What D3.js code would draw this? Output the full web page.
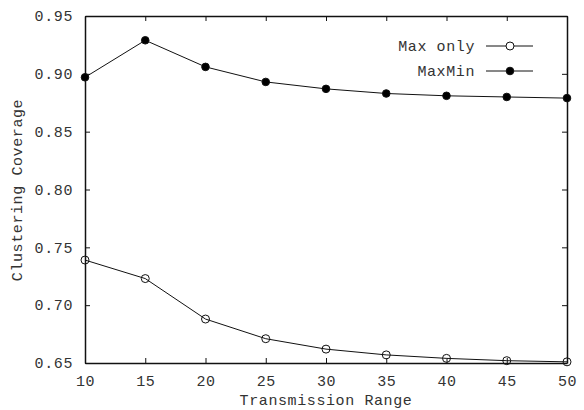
<!DOCTYPE html>
<html>
<head>
	<title></title>
	<script src="https://d3js.org/d3.v7.min.js"></script>
	<style>
		body { margin: 0; background: #fff; }
		text { font-family: "Liberation Mono", "DejaVu Sans Mono", monospace; fill: #333; letter-spacing: 0.6px; }
	</style>
</head>
<body>

<script>

var width = 584
var height = 410

// data
var ranges = [10, 15, 20, 25, 30, 35, 40, 45, 50]
var maxOnly = [0.739, 0.723, 0.688, 0.671, 0.662, 0.657, 0.654, 0.652, 0.651]
var maxMin = [0.897, 0.929, 0.906, 0.893, 0.887, 0.883, 0.881, 0.880, 0.879]
var yTicks = [0.65, 0.70, 0.75, 0.80, 0.85, 0.90, 0.95]
var xTicks = [10, 15, 20, 25, 30, 35, 40, 45, 50]
var seriesNames = ['Max only', 'MaxMin']

var margin = {left: 85, right: 17, top: 16, bottom: 47}

var svg = d3.select('body').append('svg')
	.attr('width', width)
	.attr('height', height)

var x = d3.scaleLinear().domain([10, 50]).range([margin.left, width - margin.right])
var y = d3.scaleLinear().domain([0.65, 0.95]).range([height - margin.bottom, margin.top])

// axes: ticks inward, mirrored on top and right
var fmt = d3.format('.2f')
svg.append('g')
	.attr('transform', 'translate(0,' + y(0.65) + ')')
	.call(d3.axisBottom(x).tickValues(xTicks).tickSizeInner(-5).tickSizeOuter(0).tickPadding(12))
svg.append('g')
	.attr('transform', 'translate(0,' + y(0.95) + ')')
	.call(d3.axisTop(x).tickValues(xTicks).tickSizeInner(-5).tickSizeOuter(0).tickFormat(''))
svg.append('g')
	.attr('transform', 'translate(' + x(10) + ',0)')
	.call(d3.axisLeft(y).tickValues(yTicks).tickFormat(fmt).tickSizeInner(-5).tickSizeOuter(0).tickPadding(12))
svg.append('g')
	.attr('transform', 'translate(' + x(50) + ',0)')
	.call(d3.axisRight(y).tickValues(yTicks).tickSizeInner(-5).tickSizeOuter(0).tickFormat(''))

svg.selectAll('.domain').attr('stroke', '#111').attr('stroke-width', 1.5)
svg.selectAll('.tick line').attr('stroke', '#111').attr('stroke-width', 1)
svg.selectAll('.tick text')
	.style('font-family', '"Liberation Mono", monospace')
	.style('font-size', '15px')
	.attr('fill', '#333')

// axis titles
svg.append('text')
	.attr('x', 326).attr('y', 405)
	.attr('text-anchor', 'middle')
	.style('font-size', '15px')
	.text('Transmission Range')
svg.append('text')
	.attr('transform', 'translate(22,190) rotate(-90)')
	.attr('text-anchor', 'middle')
	.style('font-size', '15px')
	.text('Clustering Coverage')

var line = d3.line()
	.x(function(d, i) { return x(ranges[i]) })
	.y(function(d) { return y(d) })

var series = [maxOnly, maxMin]

series.forEach(function(vals, s) {
	svg.append('path')
		.datum(vals)
		.attr('d', line)
		.attr('fill', 'none')
		.attr('stroke', '#111')
		.attr('stroke-width', 1)

	svg.append('g').selectAll('circle')
		.data(vals)
		.enter().append('circle')
		.attr('cx', function(d, i) { return x(ranges[i]) })
		.attr('cy', function(d) { return y(d) })
		.attr('r', s == 0 ? 4 : 3.8)
		.attr('fill', s == 0 ? 'none' : '#000')
		.attr('stroke', '#111')
		.attr('stroke-width', 1)
})

// legend
var legend = svg.append('g')
seriesNames.forEach(function(name, s) {
	var ly = 46 + s * 25
	legend.append('text')
		.attr('x', 475).attr('y', ly + 5)
		.attr('text-anchor', 'end')
		.style('font-size', '15px')
		.text(name)
	legend.append('line')
		.attr('x1', 486).attr('x2', 533)
		.attr('y1', ly).attr('y2', ly)
		.attr('stroke', '#111')
	legend.append('circle')
		.attr('cx', 510).attr('cy', ly)
		.attr('r', s == 0 ? 4 : 3.8)
		.attr('fill', s == 0 ? '#fff' : '#000')
		.attr('stroke', '#111')
})

</script>

</body>
</html>
